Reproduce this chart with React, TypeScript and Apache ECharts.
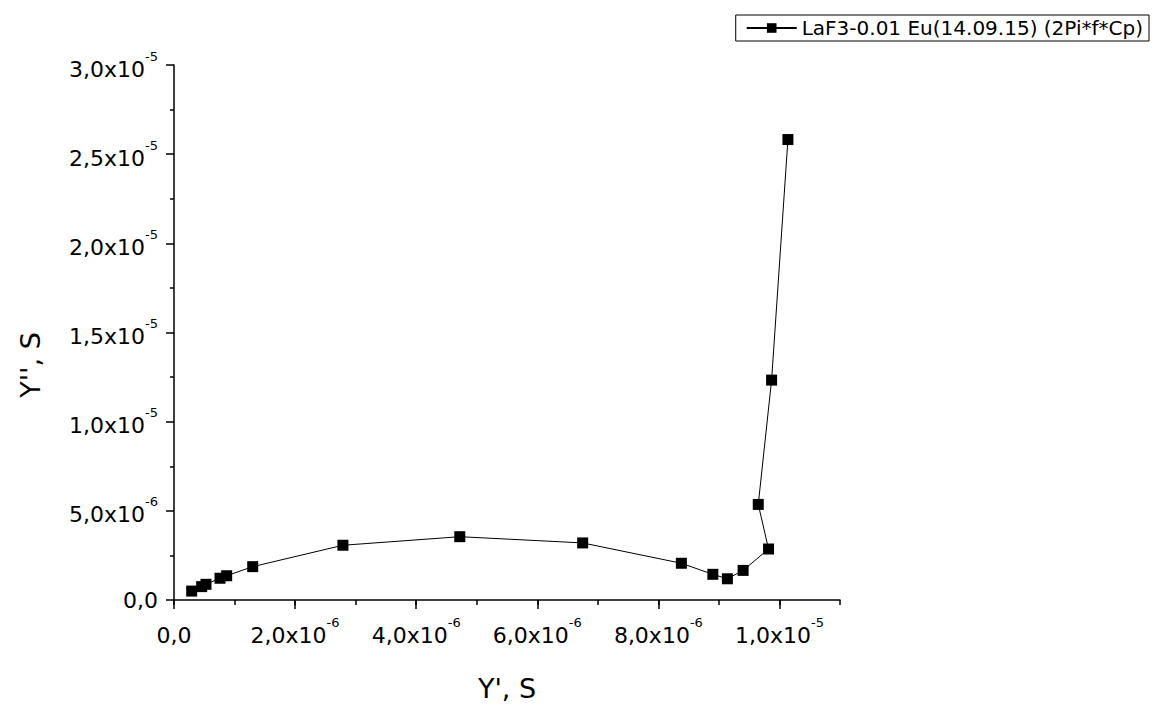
import React, { useEffect, useRef } from 'react';
import * as echarts from 'echarts';

// Y' (S) values, in measurement order
const xValues = [
  0.292e-6, 0.457e-6, 0.528e-6, 0.76e-6, 0.87e-6, 1.3e-6, 2.79e-6, 4.72e-6, 6.75e-6,
  8.38e-6, 8.9e-6, 9.14e-6, 9.4e-6, 9.82e-6, 9.65e-6, 9.87e-6, 10.14e-6,
];
// Y'' (S) values
const yValues = [
  0.5e-6, 0.75e-6, 0.88e-6, 1.22e-6, 1.36e-6, 1.87e-6, 3.07e-6, 3.55e-6, 3.2e-6,
  2.06e-6, 1.44e-6, 1.19e-6, 1.66e-6, 2.86e-6, 5.36e-6, 12.33e-6, 25.82e-6,
];
const xMajorTicks = [0, 2e-6, 4e-6, 6e-6, 8e-6, 1e-5];
const seriesName = 'LaF3-0.01 Eu(14.09.15) (2Pi*f*Cp)';
const xTitle = "Y', S";
const yTitle = "Y'', S";

const FONT = 'DejaVu Sans';

function sci(v: number, zeroToken: string): string {
  if (Math.abs(v) < 1e-12) return `{${zeroToken}|0,0}`;
  const e = Math.floor(Math.log10(v) + 1e-9);
  const m = v / Math.pow(10, e);
  return `{a|${m.toFixed(1).replace('.', ',')}x10}{b|${e}}`;
}

const rich = {
  a: { fontSize: 22, fontFamily: FONT, color: '#000', padding: [8, 0, 0, 0] },
  b: { fontSize: 13, fontFamily: FONT, color: '#000', padding: [0, 0, 18, 0] },
  z: { fontSize: 22, fontFamily: FONT, color: '#000' },
};

export default function App() {
  const ref = useRef<HTMLDivElement>(null);
  useEffect(() => {
    if (!ref.current) return;
    const chart = echarts.init(ref.current, null, { renderer: 'svg' });
    const data = xValues.map((x, i) => [x, yValues[i]]);
    chart.setOption({
      animation: false,
      backgroundColor: '#ffffff',
      grid: { left: 174, right: 315, top: 65, bottom: 105, containLabel: false },
      legend: {
        data: [seriesName],
        right: 6,
        top: 15,
        padding: [3, 6, 3, 10],
        borderColor: '#000',
        borderWidth: 1,
        itemWidth: 50,
        itemHeight: 12,
        itemGap: 8,
        textStyle: { fontFamily: FONT, fontSize: 20, color: '#000' },
      },
      xAxis: [
        {
          type: 'value',
          min: 0,
          max: 1.1e-5,
          interval: 2e-6,
          position: 'bottom',
          axisLine: { show: true, lineStyle: { color: '#000', width: 1.5 } },
          axisTick: {
            show: true,
            length: 9,
            customValues: xMajorTicks,
            lineStyle: { color: '#000', width: 1.5 },
          },
          axisLabel: {
            customValues: xMajorTicks,
            margin: 16,
            rich,
            formatter: (v: number) => (v > 1.05e-5 ? '' : sci(v, 'a')),
          },
          splitLine: { show: false },
        },
        {
          type: 'value',
          min: 0,
          max: 1.1e-5,
          interval: 1e-6,
          position: 'bottom',
          axisLine: { show: false },
          axisTick: { show: true, length: 5, lineStyle: { color: '#000', width: 1.5 } },
          axisLabel: { show: false },
          splitLine: { show: false },
        },
      ],
      yAxis: {
        type: 'value',
        min: 0,
        max: 3e-5,
        interval: 5e-6,
        axisLine: { show: true, lineStyle: { color: '#000', width: 1.5 } },
        axisTick: { show: true, length: 8, lineStyle: { color: '#000', width: 1.5 } },
        minorTick: { show: true, splitNumber: 2, length: 4, lineStyle: { color: '#000', width: 1.5 } },
        axisLabel: { margin: 16, rich, formatter: (v: number) => sci(v, 'z') },
        splitLine: { show: false },
      },
      graphic: [
        {
          type: 'text',
          x: 507,
          y: 688,
          style: {
            text: xTitle,
            fontFamily: FONT,
            fontSize: 27,
            fill: '#000',
            align: 'center',
            verticalAlign: 'middle',
          },
        },
        {
          type: 'text',
          x: 30,
          y: 365,
          rotation: Math.PI / 2,
          style: {
            text: yTitle,
            fontFamily: FONT,
            fontSize: 27,
            fill: '#000',
            align: 'center',
            verticalAlign: 'middle',
          },
        },
      ],
      series: [
        {
          name: seriesName,
          type: 'line',
          xAxisIndex: 0,
          data,
          symbol: 'rect',
          symbolSize: 11,
          itemStyle: { color: '#000' },
          lineStyle: { color: '#000', width: 1 },
        },
      ],
    });
    return () => chart.dispose();
  }, []);
  return (
    <div
      ref={ref}
      style={{ position: 'absolute', left: 0, top: 0, width: 1155, height: 705 }}
    />
  );
}
